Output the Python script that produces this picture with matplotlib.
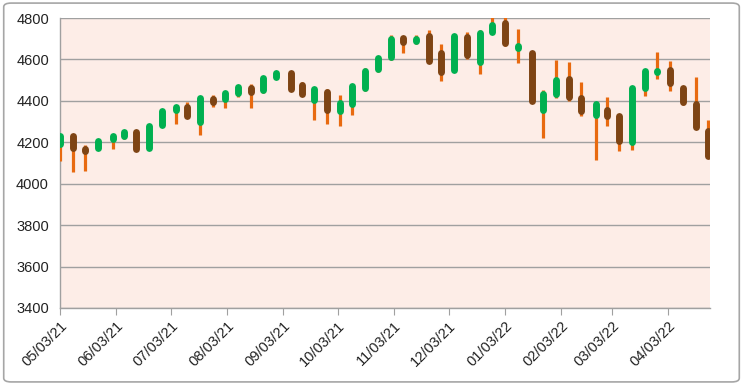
import pandas as pd
import matplotlib
matplotlib.use('Agg')
import matplotlib.pyplot as plt
import matplotlib.dates as mdates
from matplotlib.patches import FancyBboxPatch

# Weekly OHLC data
dates = ['2021-05-03', '2021-05-10', '2021-05-17', '2021-05-24', '2021-06-01', '2021-06-07',
         '2021-06-14', '2021-06-21', '2021-06-28', '2021-07-06', '2021-07-12', '2021-07-19',
         '2021-07-26', '2021-08-02', '2021-08-09', '2021-08-16', '2021-08-23', '2021-08-30',
         '2021-09-07', '2021-09-13', '2021-09-20', '2021-09-27', '2021-10-04', '2021-10-11',
         '2021-10-18', '2021-10-25', '2021-11-01', '2021-11-08', '2021-11-15', '2021-11-22',
         '2021-11-29', '2021-12-06', '2021-12-13', '2021-12-20', '2021-12-27', '2022-01-03',
         '2022-01-10', '2022-01-18', '2022-01-24', '2022-01-31', '2022-02-07', '2022-02-14',
         '2022-02-22', '2022-02-28', '2022-03-07', '2022-03-14', '2022-03-21', '2022-03-28',
         '2022-04-04', '2022-04-11', '2022-04-18', '2022-04-25']
opens = [4192.0, 4228.3, 4169.1, 4170.2, 4216.5, 4229.3, 4248.3, 4173.4, 4284.9, 4356.5,
         4372.4, 4296.4, 4409.6, 4406.9, 4437.8, 4461.7, 4450.3, 4513.8, 4535.4, 4474.8,
         4403.0, 4442.1, 4348.8, 4385.4, 4463.7, 4553.7, 4610.6, 4701.5, 4689.3, 4712.0,
         4628.8, 4548.4, 4710.3, 4587.9, 4734.0, 4778.1, 4655.3, 4632.2, 4356.3, 4431.8,
         4505.8, 4412.6, 4332.7, 4354.2, 4327.0, 4202.8, 4462.4, 4541.1, 4548.0, 4462.6,
         4385.6, 4255.3]
highs = [4238.0, 4236.4, 4188.7, 4213.4, 4234.1, 4249.7, 4261.1, 4286.1, 4356.5, 4371.6,
         4393.7, 4415.2, 4430.0, 4440.8, 4468.7, 4480.3, 4513.3, 4545.9, 4535.4, 4492.8,
         4465.4, 4457.3, 4429.0, 4475.8, 4559.7, 4608.1, 4718.5, 4714.9, 4717.8, 4743.8,
         4673.0, 4713.6, 4732.0, 4740.7, 4808.9, 4818.6, 4748.8, 4632.2, 4453.2, 4595.3,
         4590.0, 4489.6, 4385.0, 4416.8, 4331.0, 4465.4, 4546.0, 4637.3, 4593.5, 4471.0,
         4512.9, 4308.5]
lows = [4111.2, 4056.9, 4061.4, 4170.2, 4167.6, 4215.0, 4164.4, 4173.4, 4271.5, 4289.0,
        4321.1, 4233.1, 4372.5, 4367.7, 4420.0, 4367.7, 4436.5, 4513.0, 4447.0, 4427.8,
        4305.9, 4288.5, 4278.9, 4329.9, 4447.5, 4537.4, 4595.1, 4630.9, 4672.8, 4585.4,
        4495.1, 4548.4, 4600.2, 4531.1, 4734.0, 4662.7, 4582.2, 4395.3, 4222.6, 4414.0,
        4401.4, 4327.2, 4114.7, 4279.5, 4157.9, 4161.7, 4424.3, 4507.6, 4450.0, 4381.3,
        4267.6, 4124.0]
closes = [4232.6, 4173.9, 4155.9, 4204.1, 4229.9, 4247.4, 4166.5, 4280.7, 4352.3, 4369.6,
          4327.2, 4411.8, 4395.3, 4436.5, 4468.0, 4441.7, 4509.4, 4535.4, 4458.6, 4433.0,
          4455.5, 4357.0, 4391.3, 4471.4, 4544.9, 4605.4, 4697.5, 4682.9, 4698.0, 4594.6,
          4538.4, 4712.0, 4620.6, 4725.8, 4766.2, 4677.0, 4662.9, 4397.9, 4431.9, 4500.5,
          4418.6, 4348.9, 4384.7, 4328.9, 4204.3, 4463.1, 4543.1, 4545.9, 4488.3, 4392.6,
          4271.8, 4131.9]

df = pd.DataFrame({'open': opens, 'high': highs, 'low': lows, 'close': closes},
                  index=pd.to_datetime(dates))

up_color = '#00b050'
down_color = '#7e4414'
wick_color = '#e86a10'

fig = plt.figure(figsize=(7.43, 3.85), dpi=100)
ax = fig.add_axes([0.0808, 0.2, 0.875, 0.7532])
ax.set_facecolor('#fdede7')

for d, row in df.iterrows():
    x = mdates.date2num(d)
    ax.plot([x, x], [row['low'], row['high']], color=wick_color, lw=2.3,
            solid_capstyle='butt', zorder=3)
    c = up_color if row['close'] >= row['open'] else down_color
    ax.plot([x, x], [row['open'], row['close']], color=c, lw=5.0,
            solid_capstyle='round', zorder=4)

ax.set_ylim(3400, 4800)
ax.set_yticks(range(3400, 4801, 200))
ax.set_xlim(mdates.date2num(pd.Timestamp('2021-05-03')),
            mdates.date2num(pd.Timestamp('2022-04-26')))

# month ticks on the 3rd
ticks = pd.date_range('2021-05-01', '2022-04-01', freq='MS') + pd.Timedelta(days=2)
ax.set_xticks(mdates.date2num(ticks))
ax.set_xticklabels([t.strftime('%m/%d/%y') for t in ticks], rotation=45,
                   ha='right', va='top', rotation_mode='anchor')

ax.grid(axis='y', color='#a0a0a0', lw=1.0, zorder=1)
ax.set_axisbelow(True)
for s in ['top', 'right']:
    ax.spines[s].set_visible(False)
for s in ['left', 'bottom']:
    ax.spines[s].set_color('#a0a0a0')
    ax.spines[s].set_linewidth(1.0)

ax.tick_params(axis='y', length=0, pad=8, labelsize=10.5, labelcolor='#222222')
ax.tick_params(axis='x', length=5, color='#a0a0a0', pad=3, labelsize=10.5,
               labelcolor='#222222')
for lab in ax.get_xticklabels() + ax.get_yticklabels():
    lab.set_fontfamily('Liberation Sans')

border = FancyBboxPatch((0.005, 0.008), 0.99, 0.984, boxstyle='round,pad=0,rounding_size=0.01',
                        transform=fig.transFigure, fill=False, edgecolor='#a6a6a6', lw=1.2)
fig.patches.append(border)

fig.savefig('out.png', dpi=100)
